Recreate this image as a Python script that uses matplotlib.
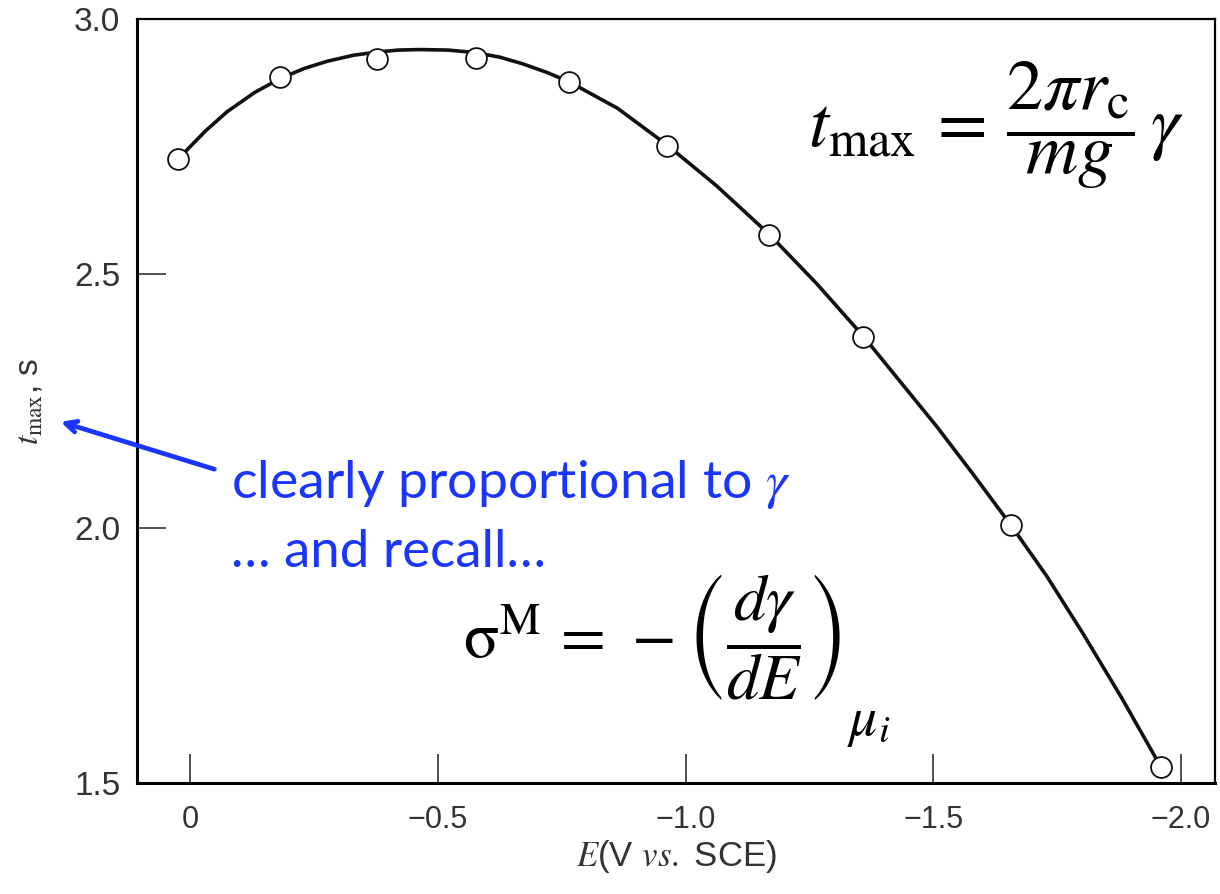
import numpy as np
from matplotlib import pyplot as plt
from matplotlib import rcParams

rcParams["mathtext.fontset"] = "stix"
rcParams["font.family"] = ["Liberation Sans", "DejaVu Sans"]

# measured points (E in V vs SCE, t_max in s)
E_pts = [0.025, -0.181, -0.376, -0.576, -0.764, -0.962, -1.168, -1.358, -1.657, -1.960]
t_pts = [2.725, 2.886, 2.921, 2.923, 2.876, 2.751, 2.576, 2.376, 2.006, 1.531]

# smooth curve
E_curve = [0.025, -0.030, -0.074, -0.130, -0.181, -0.230, -0.276, -0.330, -0.376,
           -0.420, -0.463, -0.520, -0.576, -0.625, -0.671, -0.720, -0.764, -0.862,
           -0.962, -1.063, -1.168, -1.265, -1.358, -1.430, -1.507, -1.580, -1.657,
           -1.730, -1.802, -1.880, -1.960]
t_curve = [2.725, 2.780, 2.818, 2.856, 2.883, 2.903, 2.917, 2.929, 2.935,
           2.939, 2.940, 2.939, 2.934, 2.925, 2.912, 2.895, 2.877, 2.825,
           2.753, 2.672, 2.578, 2.480, 2.378, 2.292, 2.200, 2.107, 2.006,
           1.905, 1.794, 1.668, 1.531]

xticks = [0, -0.5, -1.0, -1.5, -2.0]
xtick_labels = ["0", "\u22120.5", "\u22121.0", "\u22121.5", "\u22122.0"]
yticks = [1.5, 2.0, 2.5, 3.0]
ytick_labels = ["1.5", "2.0", "2.5", "3.0"]

W, H = 1220, 894
fig = plt.figure(figsize=(W / 100, H / 100), dpi=100)
ax = fig.add_axes([137 / W, 1 - 783 / H, (1215 - 137) / W, (783 - 19) / H])

ax.plot(E_curve, t_curve, "-", color="#111111", lw=2.6, zorder=2)
ax.plot(E_pts, t_pts, "o", ms=15, mfc="white", mec="#111111", mew=1.3, zorder=3)

ax.set_xlim(0.108, -2.069)
ax.set_ylim(1.5, 3.0)
ax.set_xticks(xticks)
ax.set_xticklabels(xtick_labels)
ax.set_yticks(yticks)
ax.set_yticklabels(ytick_labels)
ax.tick_params(direction="in", length=21, width=1.2, color="#333333",
               labelcolor="#333333")
ax.tick_params(axis="x", labelsize=22, pad=16)
ax.tick_params(axis="y", labelsize=24, pad=12)
for side in ["left", "bottom"]:
    ax.spines[side].set_linewidth(2.2)
for side in ["top", "right"]:
    ax.spines[side].set_linewidth(1.6)

ax.set_ylabel(r"$t_{\mathrm{max}}$, s", fontsize=24, color="#333333")
ax.yaxis.set_label_coords(-0.086, 0.5)
ax.set_xlabel(r"$E$(V $vs.$ SCE)", fontsize=25, color="#333333")
ax.xaxis.set_label_coords(0.5, -0.072)

# formulas
fig.text(808 / W, 1 - 147 / H,
         r"$t_{\mathrm{max}}\,=\,\dfrac{2\pi r_{\mathrm{c}}}{mg}\,\gamma$",
         fontsize=52, ha="left", va="baseline")
fig.text(463 / W, 1 - 658 / H,
         r"$\mathrm{\sigma}^{\mathrm{M}}\,=\,-\left(\dfrac{d\gamma}{dE}\right)$",
         fontsize=47, ha="left", va="baseline")
fig.text(847 / W, 1 - 735 / H, r"$\mu_i$", fontsize=40, ha="left", va="baseline")

blue = "#1a35ff"
fig.text(231 / W, 1 - 498 / H, r"clearly proportional to $\gamma$", fontsize=38.5,
         color=blue, family=["Lato", "DejaVu Sans"], ha="left", va="baseline")
fig.text(231 / W, 1 - 567 / H, "\u2026 and recall\u2026", fontsize=38,
         color=blue, family=["Lato", "DejaVu Sans"], ha="left", va="baseline")
ax.annotate("", xy=(58 / W, 1 - 421 / H), xytext=(217 / W, 1 - 470 / H),
            xycoords="figure fraction", textcoords="figure fraction",
            arrowprops=dict(arrowstyle="->,head_length=0.8,head_width=0.4",
                            color=blue, lw=3.4))

fig.savefig("out.png", dpi=100)
